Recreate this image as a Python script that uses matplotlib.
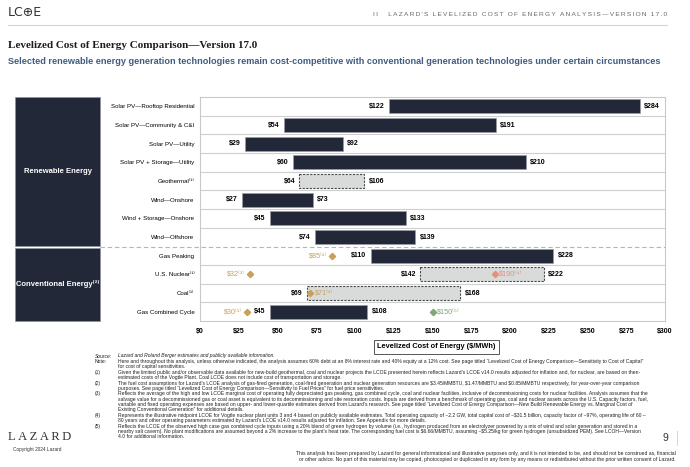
import matplotlib
matplotlib.use("Agg")
import matplotlib.pyplot as plt
from matplotlib.patches import Rectangle
from matplotlib.lines import Line2D

plt.rcParams['text.parse_math'] = False

W, H = 690, 467
SANS = ['Liberation Sans', 'DejaVu Sans']
SERIF = ['Liberation Serif', 'DejaVu Serif']

NAVY = "#232839"
GOLD = "#c9a059"
GREY_FILL = "#d9dbda"

# =========================
# Data
# =========================

categories = [
    "Solar PV—Rooftop Residential",
    "Solar PV—Community & C&I",
    "Solar PV—Utility",
    "Solar PV + Storage—Utility",
    "Geothermal",
    "Wind—Onshore",
    "Wind + Storage—Onshore",
    "Wind—Offshore",
    "Gas Peaking",
    "U.S. Nuclear",
    "Coal",
    "Gas Combined Cycle",
]
low = [122, 54, 29, 60, 64, 27, 45, 74, 110, 142, 69, 45]
high = [284, 191, 92, 210, 106, 73, 133, 139, 228, 222, 168, 108]

# rows with estimated ranges (dashed grey boxes) and their footnote
estimate_rows = ["Geothermal", "U.S. Nuclear", "Coal"]
category_notes = {"Geothermal": "⁽¹⁾", "U.S. Nuclear": "⁽¹⁾", "Coal": "⁽¹⁾"}

# marginal cost of existing conventional generation
marginal_rows = ["Gas Peaking", "U.S. Nuclear", "Coal", "Gas Combined Cycle"]
marginal_vals = [85, 32, 71, 30]
marginal_side = ["left", "left", "right", "left"]

# other single-point markers
extra_rows = ["U.S. Nuclear", "Gas Combined Cycle"]
extra_vals = [190, 150]
extra_notes = ["⁽⁴⁾", "⁽⁵⁾"]
extra_colors = ["#e4917a", "#7fa877"]

xticks = list(range(0, 301, 25))
xtick_labels = ["$" + str(t) for t in xticks]

footnote_tags = ["Source:", "Note:", "", "(1)", "", "(2)", "", "(3)", "", "", "", "(4)", "", "(5)", "", ""]
footnote_lines = [
    "Lazard and Roland Berger estimates and publicly available information.",
    "Here and throughout this analysis, unless otherwise indicated, the analysis assumes 60% debt at an 8% interest rate and 40% equity at a 12% cost. See page titled “Levelized Cost of Energy Comparison—Sensitivity to Cost of Capital”",
    "for cost of capital sensitivities.",
    "Given the limited public and/or observable data available for new-build geothermal, coal and nuclear projects the LCOE presented herein reflects Lazard’s LCOE v14.0 results adjusted for inflation and, for nuclear, are based on then-",
    "estimated costs of the Vogtle Plant. Coal LCOE does not include cost of transportation and storage.",
    "The fuel cost assumptions for Lazard’s LCOE analysis of gas-fired generation, coal-fired generation and nuclear generation resources are $3.45/MMBTU, $1.47/MMBTU and $0.85/MMBTU respectively, for year-over-year comparison",
    "purposes. See page titled “Levelized Cost of Energy Comparison—Sensitivity to Fuel Prices” for fuel price sensitivities.",
    "Reflects the average of the high and low LCOE marginal cost of operating fully depreciated gas peaking, gas combined cycle, coal and nuclear facilities, inclusive of decommissioning costs for nuclear facilities. Analysis assumes that the",
    "salvage value for a decommissioned gas or coal asset is equivalent to its decommissioning and site restoration costs. Inputs are derived from a benchmark of operating gas, coal and nuclear assets across the U.S. Capacity factors, fuel,",
    "variable and fixed operating expenses are based on upper- and lower-quartile estimates derived from Lazard’s research. See page titled “Levelized Cost of Energy Comparison—New Build Renewable Energy vs. Marginal Cost of",
    "Existing Conventional Generation” for additional details.",
    "Represents the illustrative midpoint LCOE for Vogtle nuclear plant units 3 and 4 based on publicly available estimates. Total operating capacity of ~2.2 GW, total capital cost of ~$31.5 billion, capacity factor of ~97%, operating life of 60 –",
    "80 years and other operating parameters estimated by Lazard’s LCOE v14.0 results adjusted for inflation. See Appendix for more details.",
    "Reflects the LCOE of the observed high case gas combined cycle inputs using a 20% blend of green hydrogen by volume (i.e., hydrogen produced from an electrolyzer powered by a mix of wind and solar generation and stored in a",
    "nearby salt cavern). No plant modifications are assumed beyond a 2% increase to the plant’s heat rate. The corresponding fuel cost is $6.66/MMBTU, assuming ~$5.25/kg for green hydrogen (unsubsidized PEM). See LCOH—Version",
    "4.0 for additional information.",
]
disclaimer = [
    "This analysis has been prepared by Lazard for general informational and illustrative purposes only, and it is not intended to be, and should not be construed as, financial",
    "or other advice. No part of this material may be copied, photocopied or duplicated in any form by any means or redistributed without the prior written consent of Lazard.",
]


def fx(x):
    return x / W


def fy(y):
    return 1 - y / H


def spaced(s):
    return "\u2009".join(s)


fig = plt.figure(figsize=(W / 100, H / 100), dpi=100)
fig.patch.set_facecolor("white")

# =========================
# Header
# =========================

fig.text(fx(8), fy(13), "LC⊕E", family=['DejaVu Sans'], fontsize=9, color="#333333",
         va='center', ha='left')
fig.text(fx(667), fy(14), spaced("II   LAZARD'S LEVELIZED COST OF ENERGY ANALYSIS—VERSION 17.0"),
         family=SANS, fontsize=4.65, color="#666666", va='center', ha='right')
fig.add_artist(Line2D([fx(8), fx(667)], [fy(25), fy(25)], color="#d5d5d5", lw=0.8))

fig.text(fx(8), fy(45), "Levelized Cost of Energy Comparison—Version 17.0", family=SERIF,
         fontweight='bold', fontsize=8.0, color="#1c1c1c", va='center', ha='left')
fig.text(fx(8), fy(62), "Selected renewable energy generation technologies remain cost-competitive "
         "with conventional generation technologies under certain circumstances",
         family=SANS, fontweight='bold', fontsize=6.6, color="#3e5d80", va='center', ha='left')

# =========================
# Chart
# =========================

ax = fig.add_axes([fx(200), fy(321), (665 - 200) / W, (321 - 97) / H])
n = len(categories)
ypos = list(range(n))

for i, cat in enumerate(categories):
    if cat in estimate_rows:
        ax.barh(i, high[i] - low[i], left=low[i], height=0.74, color=GREY_FILL,
                edgecolor="#4a4a4a", linestyle=(0, (2, 1.2)), linewidth=0.8, zorder=2)
    else:
        ax.barh(i, high[i] - low[i], left=low[i], height=0.74, color=NAVY,
                edgecolor="#9a9ca4", linewidth=0.5, zorder=2)
    ax.annotate("$" + str(low[i]), (low[i], i), xytext=(-3, 0), textcoords='offset points',
                ha='right', va='center', fontsize=5, fontweight='bold', family=SANS)
    ax.annotate("$" + str(high[i]), (high[i], i), xytext=(3, 0), textcoords='offset points',
                ha='left', va='center', fontsize=5, fontweight='bold', family=SANS)

for cat, val, side in zip(marginal_rows, marginal_vals, marginal_side):
    i = categories.index(cat)
    ax.plot(val, i, marker='D', ms=3.2, color=GOLD, zorder=4)
    if side == "left":
        ax.annotate("$" + str(val) + "⁽³⁾", (val, i), xytext=(-3.5, 0), textcoords='offset points',
                    ha='right', va='center', fontsize=5.2, color=GOLD, family=SANS)
    else:
        ax.annotate("$" + str(val) + "⁽³⁾", (val, i), xytext=(3.5, 0), textcoords='offset points',
                    ha='left', va='center', fontsize=5.2, color=GOLD, family=SANS)

for cat, val, note, col in zip(extra_rows, extra_vals, extra_notes, extra_colors):
    i = categories.index(cat)
    ax.plot(val, i, marker='D', ms=3.2, color=col, zorder=4)
    ax.annotate("$" + str(val) + note, (val, i), xytext=(3.5, 0), textcoords='offset points',
                ha='left', va='center', fontsize=5.2, color=col, family=SANS)

# row separators (the renewable / conventional split is drawn dashed below)
for k in range(n - 1):
    if categories[k] == "Wind—Offshore":
        continue
    ax.axhline(k + 0.5, color="#cfcfcf", lw=0.8, zorder=1)

ax.set_xlim(0, 300)
ax.set_ylim(n - 0.5, -0.5)
ax.set_yticks(ypos)
ax.set_yticklabels([c + category_notes.get(c, "") for c in categories], family=SANS, fontsize=4.4)
ax.set_xticks(xticks)
ax.set_xticklabels(xtick_labels, family=SANS, fontsize=5, fontweight='bold')
ax.tick_params(length=0, pad=4)
ax.tick_params(axis='x', pad=5)
for s in ax.spines.values():
    s.set_color("#c9c9c9")
    s.set_linewidth(0.8)

# =========================
# Left group panels
# =========================

fig.add_artist(Rectangle((fx(15), fy(246)), 85 / W, 149 / H, facecolor=NAVY,
                         edgecolor="#8f929c", lw=0.5))
fig.add_artist(Rectangle((fx(15), fy(321)), 85 / W, 73 / H, facecolor=NAVY,
                         edgecolor="#8f929c", lw=0.5))
fig.text(fx(57.5), fy(171.5), "Renewable Energy", color="white", fontweight='bold',
         fontsize=5.5, family=SANS, ha='center', va='center')
fig.text(fx(57.5), fy(284.5), "Conventional Energy⁽²⁾", color="white", fontweight='bold',
         fontsize=5.5, family=SANS, ha='center', va='center')
fig.add_artist(Line2D([fx(100), fx(665)], [fy(246.8), fy(246.8)], color="#b5b5b5",
                      lw=0.8, linestyle=(0, (4, 2.5))))

fig.text(fx(436), fy(347), "Levelized Cost of Energy ($/MWh)", family=SANS, fontsize=5.3,
         fontweight='bold', ha='center', va='center',
         bbox=dict(boxstyle='square,pad=0.45', facecolor='white', edgecolor='#555555', lw=0.7))

# =========================
# Footnotes
# =========================

y0 = 356
for k, (tag, line) in enumerate(zip(footnote_tags, footnote_lines)):
    yy = y0 + k * 5.4
    style = 'italic' if k == 0 else 'normal'
    if tag:
        fig.text(fx(95), fy(yy), tag, family=SANS, fontsize=3.6, style=style,
                 ha='left', va='center', color="#222222")
    fig.text(fx(118), fy(yy), line, family=SANS, fontsize=3.6, style=style,
             ha='left', va='center', color="#222222")

fig.text(fx(8), fy(437), spaced("LAZARD"), family=SERIF, fontsize=9, color="#333333",
         ha='left', va='center')
fig.text(fx(13), fy(449), "Copyright 2024 Lazard", family=SANS, fontsize=3.4,
         color="#333333", ha='left', va='center')
fig.text(fx(668), fy(438), "9", family=SANS, fontsize=7.5, color="#333333",
         ha='right', va='center')
fig.add_artist(Line2D([fx(677), fx(677)], [fy(431), fy(445)], color="#d0d0d0", lw=0.6))

for k, line in enumerate(disclaimer):
    fig.text(fx(676), fy(453 + k * 7), line, family=SANS, fontsize=3.65,
             ha='right', va='center', color="#222222")

fig.savefig("out.png", dpi=100)
